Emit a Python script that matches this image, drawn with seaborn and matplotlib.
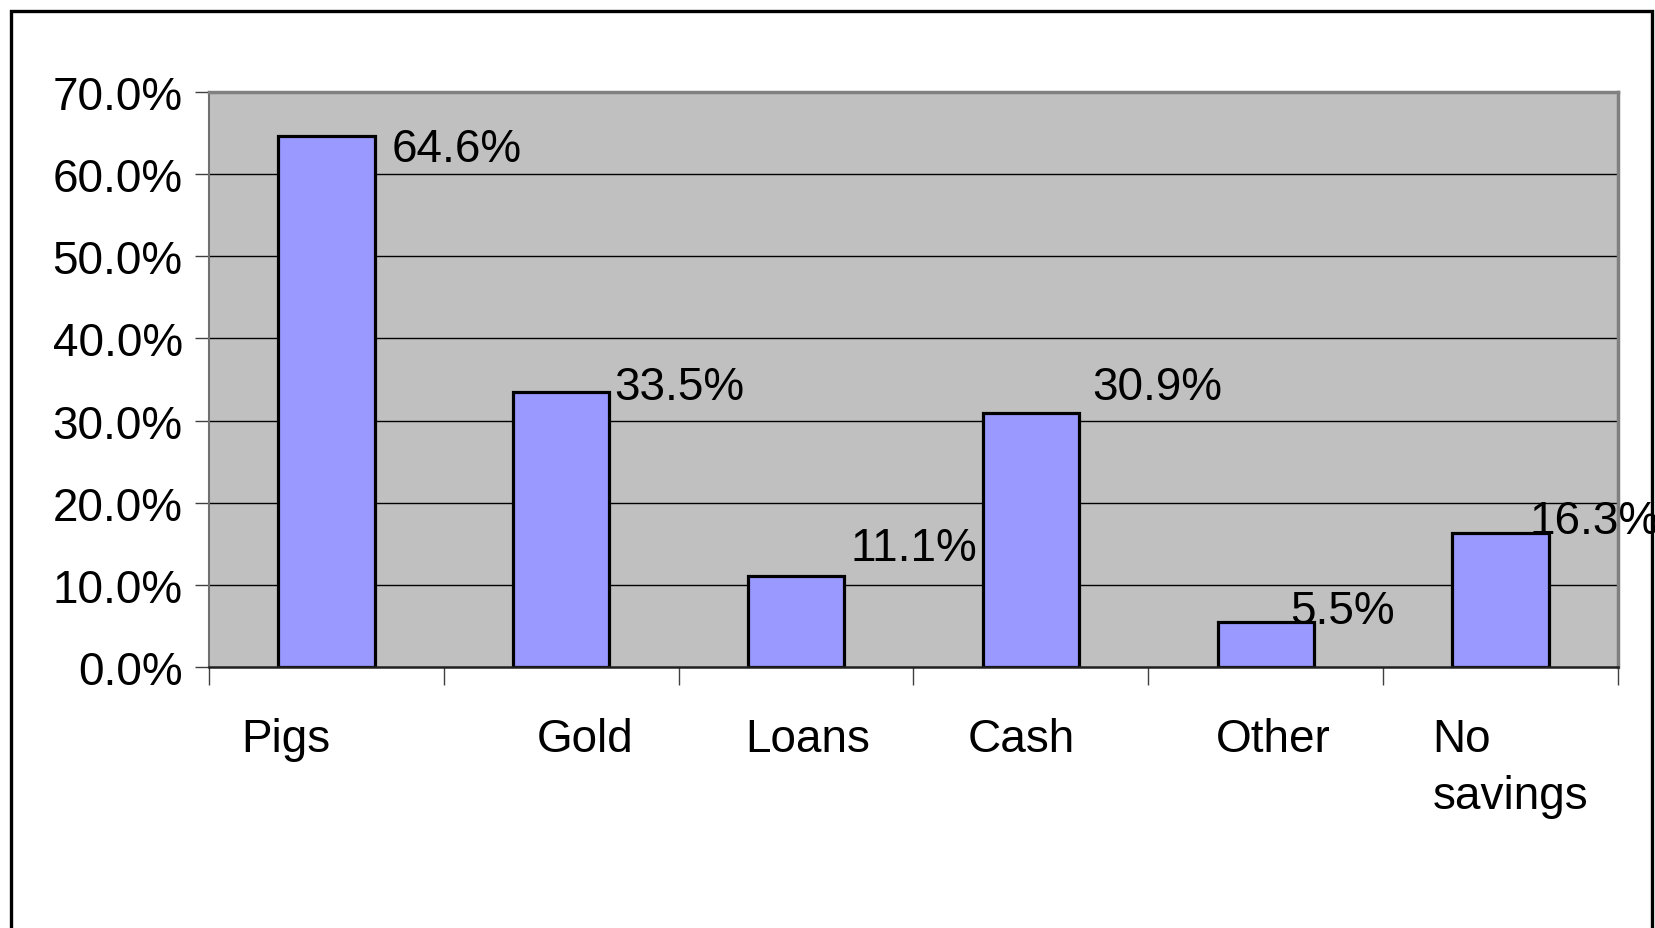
import matplotlib
matplotlib.use("Agg")
import matplotlib.pyplot as plt
import seaborn as sns
import pandas as pd
from matplotlib.patches import Rectangle
from matplotlib.ticker import FuncFormatter, FixedLocator
from matplotlib.transforms import ScaledTranslation

categories = ["Pigs", "Gold", "Loans", "Cash", "Other", "No\nsavings"]
shares = [64.6, 33.5, 11.1, 30.9, 5.5, 16.3]
y_ticks = [0, 10, 20, 30, 40, 50, 60, 70]

# label placement relative to each bar's top-right corner, in pixels
label_dx = [17, 5, 6, 13, -24, -19]
label_dy = [-13, 5, 28, 26, 11, 12]
# horizontal nudges of the category labels, in pixels
cat_dx = [-41, 24, 12, -10, 8, 10]

DPI = 100

sns.set_theme(style="white")
plt.rcParams["font.family"] = ["Liberation Sans", "DejaVu Sans"]

fig = plt.figure(figsize=(16.55, 9.29), dpi=DPI)
fig.patch.set_facecolor("white")
ax = fig.add_axes([0.1263, 0.2809, 0.8513, 0.6190])

df = pd.DataFrame({"category": categories, "share": shares})
sns.barplot(data=df, x="category", y="share", ax=ax, color="#9999FF",
            saturation=1, width=0.41, edgecolor="black", linewidth=2.3,
            zorder=3)

ax.set_facecolor("#C0C0C0")
ax.set_xlim(-0.5, len(categories) - 0.5)
ax.set_ylim(0, 70)
ax.set_xlabel("")
ax.set_ylabel("")

# horizontal gridlines
for t in y_ticks[1:-1]:
    ax.axhline(t, color="black", linewidth=1.0, zorder=1)

ax.yaxis.set_major_locator(FixedLocator(y_ticks))
ax.yaxis.set_major_formatter(FuncFormatter(lambda v, p: f"{v:.1f}%"))
ax.tick_params(axis="y", which="major", direction="out", length=10,
               width=1.0, color="#404040", labelsize=33, pad=9,
               left=True, labelcolor="black")

# category labels at centres, ticks at category boundaries
ax.set_xticks(range(len(categories)))
ax.set_xticklabels(categories, fontsize=33, linespacing=1.38,
                   multialignment="left", color="black")
ax.set_xticks([i - 0.5 for i in range(len(categories) + 1)], minor=True)
ax.tick_params(axis="x", which="major", length=0, pad=36,
               labelcolor="black")
ax.tick_params(axis="x", which="minor", direction="out", length=13,
               width=1.0, color="#404040", bottom=True)
for lbl, dx in zip(ax.get_xticklabels(), cat_dx):
    lbl.set_verticalalignment("top")
    lbl.set_transform(lbl.get_transform() +
                      ScaledTranslation(dx / DPI, 0, fig.dpi_scale_trans))

for side in ["top", "right"]:
    ax.spines[side].set_visible(True)
    ax.spines[side].set_color("#808080")
    ax.spines[side].set_linewidth(2.5)
ax.spines["left"].set_color("#707070")
ax.spines["left"].set_linewidth(1.5)
ax.spines["bottom"].set_color("#202020")
ax.spines["bottom"].set_linewidth(1.8)
for s in ax.spines.values():
    s.set_zorder(4)

# value labels
for i, (v, dx, dy) in enumerate(zip(shares, label_dx, label_dy)):
    ax.annotate(f"{v:.1f}%", xy=(i + 0.205, v), xytext=(dx, dy),
                textcoords="offset pixels", ha="left", va="center",
                fontsize=33, color="black", zorder=5,
                annotation_clip=False)

# outer chart frame, running off the bottom edge
fig.add_artist(Rectangle((11 / 1655, -0.05), (1652 - 11) / 1655,
                         1.05 - 12 / 929, transform=fig.transFigure,
                         fill=False, edgecolor="black", linewidth=2.4,
                         clip_on=False))

fig.savefig("out.png", dpi=DPI, facecolor="white")
